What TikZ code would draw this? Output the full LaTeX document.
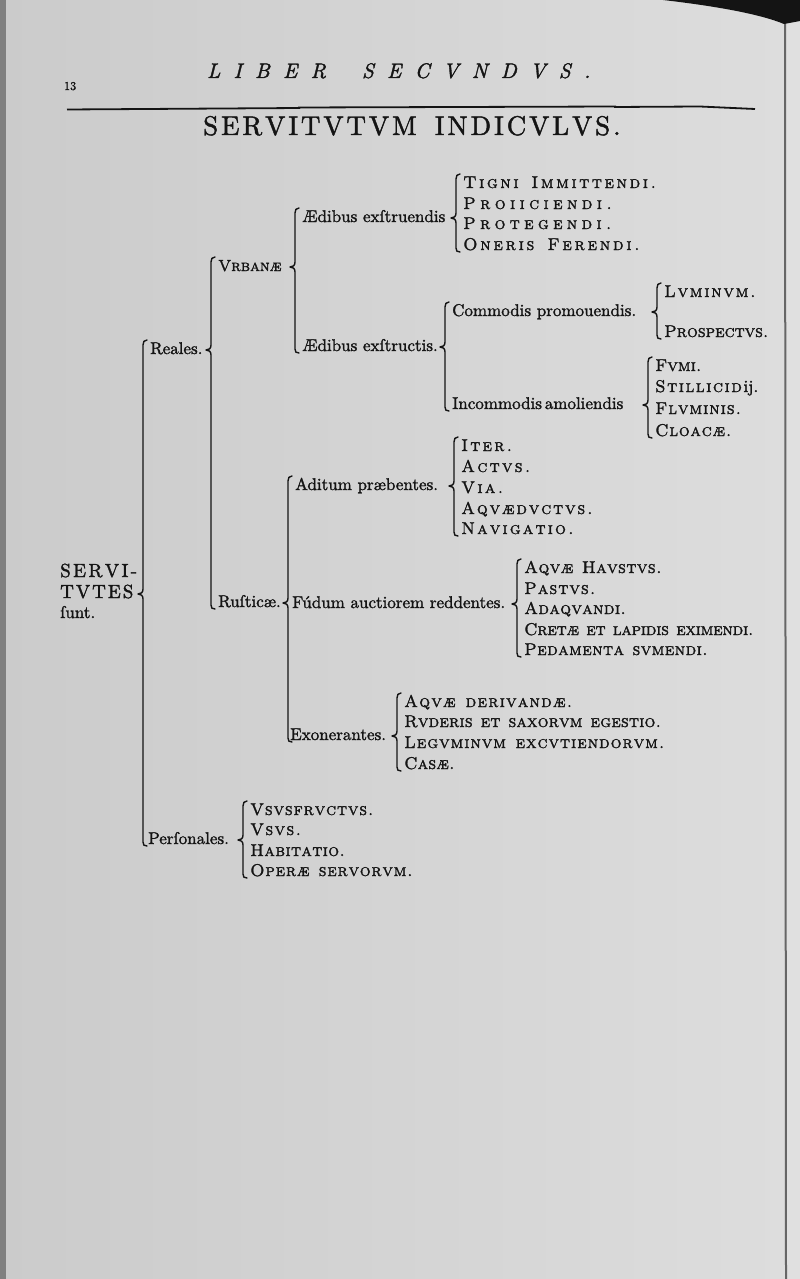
\documentclass[tikz,border=0pt]{standalone}
\usetikzlibrary{calc}
\definecolor{paperL}{HTML}{CBCBCB}
\definecolor{paperR}{HTML}{DDDDDD}
\definecolor{ink}{HTML}{141414}
\DeclareFontFamily{TU}{lmx}{}
\DeclareFontShape{TU}{lmx}{m}{n}{<->"[lmroman10-regular]:embolden=1.6"}{}
\DeclareFontShape{TU}{lmx}{m}{sc}{<->"[lmromancaps10-regular]:embolden=1.6"}{}
\DeclareFontShape{TU}{lmx}{m}{it}{<->"[lmroman10-italic]:embolden=1.6"}{}
\newcommand\F[1]{\fontfamily{lmx}\fontsize{#1}{#1}\selectfont}
\makeatletter
\newcommand\lsp[2]{{\def\lsp@k{\kern#1}\lsp@a#2\@nil}}
\def\lsp@a#1{\ifx#1\@nil\else\lsp@c#1\expandafter\lsp@a\fi}
\def\lsp@c#1{\ifx#1~\hspace{0.45em}\else#1\fi\lsp@k}
\makeatother
\tikzset{
  txt/.style={anchor=west, inner sep=0pt, text height=12pt, text depth=4pt,
    font=\F{17}, text=ink},
  sc/.style={txt, font=\F{17}},
  brc/.style={draw=ink, line width=1.4pt, line cap=round, line join=round},
}
\newcommand\SCx[2]{\textsc{\lsp{#1pt}{#2}}}
\newcommand\brc[3]{%
\draw[brc] let \p1=(#1.east), \p2=(#2.west), \p3=(#3.west) in
 (\x2-3pt,\y2+10pt) .. controls (\x2-6pt,\y2+10pt) and (\x2-7pt,\y2+8pt) .. (\x2-7pt,\y2+5pt)
 -- (\x2-7pt,\y1+5pt) .. controls (\x2-7pt,\y1+1.5pt) and (\x2-9pt,\y1) .. (\x2-12pt,\y1)
 .. controls (\x2-9pt,\y1) and (\x2-7pt,\y1-1.5pt) .. (\x2-7pt,\y1-5pt)
 -- (\x2-7pt,\y3-2pt) .. controls (\x2-7pt,\y3-5pt) and (\x2-6pt,\y3-6pt) .. (\x2-3pt,\y3-6pt);}
\begin{document}
\begin{tikzpicture}[x=1pt,y=-1pt]
\useasboundingbox (0,0) rectangle (800,1279);
% paper
\shade[left color=paperL, right color=paperR] (0,0) rectangle (786,1279);
\fill[paperR!90!white] (786,0) rectangle (800,1279);
\fill[black!50] (0,0) rectangle (6,1279);
\draw[black!60, line width=2pt] (785,22) -- (786,1279);
\fill[black!92] (663,0) .. controls (715,6) and (760,14) .. (784,24) -- (800,21) -- (800,0) -- cycle;
% header
\node[txt, font=\F{12}] (pg) at (64,86) {13};
\node[txt, font=\F{21}\itshape] (liber) at (207,74) {\lsp{13.3pt}{LIBER~SECVNDVS.}};
\draw[ink, line width=1.8pt] (67,109.5) -- (300,108) (298,107.5) -- (616,106.5) (614,107) -- (700,106.5) -- (755,109);
\node[txt, font=\F{27}] (title) at (203,131) {\lsp{2.9pt}{SERVITVTVM~INDICVLVS.}};
% root
\node[txt, font=\F{19}] (root1) at (60,573) {\lsp{2.4pt}{SERVI-}};
\node[txt, font=\F{19}] (root) at (60,594) {\lsp{2pt}{TVTES}};
\node[txt] (root3) at (60,614) {ſunt.};
% level 1
\node[txt] (reales) at (150,350) {Reales.};
\node[txt] (pers) at (148,840) {Perſonales.};
% level 2
\node[txt, font=\F{16}] (urb) at (218,267) {\textsc{Vrbanæ}};
\node[txt] (rus) at (218,603) {Ruſticæ.};
% urbanae
\node[txt] (aeda) at (302,218) {Ædibus exſtruendis};
\node[txt] (aedb) at (302,347) {Ædibus exſtructis.};
\node[sc] (t1) at (463,184) {\SCx{2.6}{Tigni~Immittendi.}};
\node[sc] (t2) at (463,205) {\SCx{4.4}{Proiiciendi.}};
\node[sc] (t3) at (463,225) {\SCx{4.3}{Protegendi.}};
\node[sc] (t4) at (463,246) {\SCx{2.75}{Oneris~Ferendi.}};
\node[txt] (comm) at (452,312) {Commodis promouendis.};
\node[txt] (incomm) at (452,405) {Incommodis\,amoliendis};
\node[sc] (l1) at (664,293) {\SCx{1.8}{Lvminvm.}};
\node[sc] (l2) at (664,333) {\SCx{0}{Prospectvs.}};
\node[sc] (f1) at (655,367) {\SCx{0.1}{Fvmi.}};
\node[sc] (f2) at (655,388) {\SCx{1.6}{Stillicid}ij.};
\node[sc] (f3) at (655,410) {\SCx{1.0}{Flvminis.}};
\node[sc] (f4) at (655,432) {\SCx{0.8}{Cloacæ.}};
% rusticae
\node[txt] (adit) at (295,486) {Aditum præbentes.};
\node[txt] (fund) at (292,604) {Fúdum auctiorem reddentes.};
\node[txt] (exon) at (290,736) {Exonerantes.};
\node[sc] (i1) at (461,447) {\SCx{2.2}{Iter.}};
\node[sc] (i2) at (461,468) {\SCx{2.3}{Actvs.}};
\node[sc] (i3) at (461,489) {\SCx{2.4}{Via.}};
\node[sc] (i4) at (461,510) {\SCx{1.9}{Aqvædvctvs.}};
\node[sc] (i5) at (461,530) {\SCx{2.2}{Navigatio.}};
\node[sc] (a1) at (524,569) {\SCx{0.5}{Aqvæ~Havstvs.}};
\node[sc] (a2) at (524,590) {\SCx{1.1}{Pastvs.}};
\node[sc] (a3) at (524,610) {\SCx{0.4}{Adaqvandi.}};
\node[sc] (a4) at (524,631) {\SCx{-0.2}{Cretæ~et~lapidis~eximendi.}};
\node[sc] (a5) at (524,651) {\SCx{0.45}{Pedamenta~svmendi.}};
\node[sc] (d1) at (404,703) {\SCx{1.25}{Aqvæ~derivandæ.}};
\node[sc] (d2) at (404,723) {\SCx{0.2}{Rvderis~et~saxorvm~egestio.}};
\node[sc] (d3) at (404,744) {\SCx{1.0}{Legvminvm~excvtiendorvm.}};
\node[sc] (d4) at (404,765) {\SCx{0.2}{Casæ.}};
% personales
\node[sc] (u1) at (250,811) {\SCx{0.9}{Vsvsfrvctvs.}};
\node[sc] (u2) at (250,831) {\SCx{1.4}{Vsvs.}};
\node[sc] (u3) at (250,852) {\SCx{0.4}{Habitatio.}};
\node[sc] (u4) at (250,872) {\SCx{0.8}{Operæ~servorvm.}};
% braces
\brc{root}{reales}{pers}
\brc{reales}{urb}{rus}
\brc{urb}{aeda}{aedb}
\brc{aeda}{t1}{t4}
\brc{aedb}{comm}{incomm}
\brc{comm}{l1}{l2}
\brc{incomm}{f1}{f4}
\brc{rus}{adit}{exon}
\brc{adit}{i1}{i5}
\brc{fund}{a1}{a5}
\brc{exon}{d1}{d4}
\brc{pers}{u1}{u4}
\end{tikzpicture}
\end{document}
